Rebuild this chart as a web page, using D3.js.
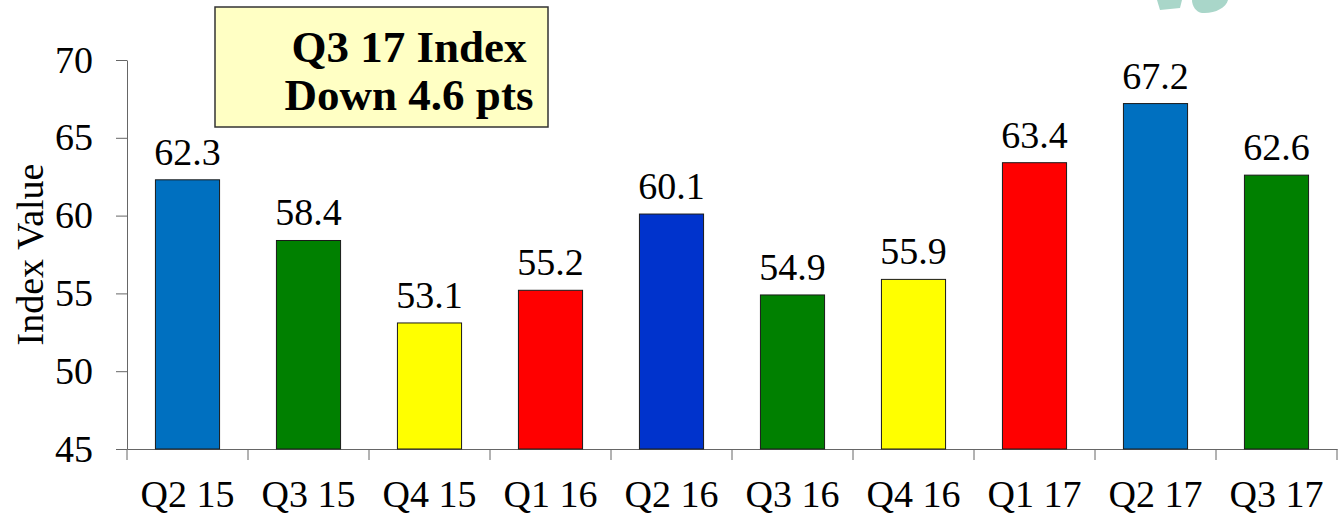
<!DOCTYPE html>
<html>
<head>
<meta charset="utf-8">
<script src="https://cdn.jsdelivr.net/npm/d3@7"></script>
<style>
  body { margin: 0; background: #fff; }
  svg { display: block; }
  svg text { font-family: "Liberation Serif", "Times New Roman", Times, serif !important; }
</style>
</head>
<body>
<div id="chart-area"></div>
<script>
const quarters = ["Q2 15", "Q3 15", "Q4 15", "Q1 16", "Q2 16", "Q3 16", "Q4 16", "Q1 17", "Q2 17", "Q3 17"];
const indexValues = [62.3, 58.4, 53.1, 55.2, 60.1, 54.9, 55.9, 63.4, 67.2, 62.6];
const yTicks = [45, 50, 55, 60, 65, 70];
const noteLines = ["Q3 17 Index", "Down 4.6 pts"];

// one colour per bar, same order as quarters
const barColors = ["#0070c0", "#008000", "#ffff00", "#ff0000", "#0033cc", "#008000", "#ffff00", "#ff0000", "#0070c0", "#008000"];

const W = 1344, H = 519;
const margin = { left: 127, right: 7, top: 60, bottom: 70 };
const width = W - margin.left - margin.right;
const height = H - margin.top - margin.bottom;

const svg = d3.select("#chart-area")
  .append("svg")
  .attr("width", W)
  .attr("height", H);

// faint logo remnant, top right
const logo = svg.append("g").attr("fill", "#a9d6c9");
logo.append("path").attr("d", "M1157,0 L1182,0 L1180,8 L1160,10 Z");
logo.append("path").attr("d", "M1192,0 L1228,0 C1226,8 1214,14 1202,13 C1196,12 1192,6 1192,0 Z");

const g = svg.append("g")
  .attr("transform", `translate(${margin.left}, ${margin.top})`);

const x = d3.scaleBand()
  .domain(quarters)
  .range([0, width])
  .paddingInner(0.47)
  .paddingOuter(0.235);

const y = d3.scaleLinear()
  .domain([45, 70])
  .range([height, 0]);

// y axis
const yAxisGroup = g.append("g")
  .attr("class", "y-axis")
  .call(d3.axisLeft(y).tickValues(yTicks).tickSize(11).tickSizeOuter(0).tickPadding(23));
yAxisGroup.select(".domain").attr("stroke", "#666");
yAxisGroup.selectAll(".tick line").attr("stroke", "#666");
yAxisGroup.selectAll(".tick text")
  .attr("font-size", "38px")
  .attr("fill", "#000");

// x axis (labels), ticks drawn at band edges below
const xAxisGroup = g.append("g")
  .attr("class", "x-axis")
  .attr("transform", `translate(0, ${height})`)
  .call(d3.axisBottom(x).tickSize(0).tickPadding(31));
xAxisGroup.select(".domain").attr("stroke", "#666");
xAxisGroup.selectAll(".tick text")
  .attr("font-size", "38px")
  .attr("fill", "#000");

const edges = quarters.map(q => x(q) - x.step() * x.paddingOuter()).concat([width]);
xAxisGroup.selectAll(".edge-tick")
  .data(edges)
  .enter()
  .append("line")
  .attr("class", "edge-tick")
  .attr("x1", d => d)
  .attr("x2", d => d)
  .attr("y1", 0)
  .attr("y2", 11)
  .attr("stroke", "#666");

// bars
g.selectAll("rect.bar")
  .data(indexValues)
  .enter()
  .append("rect")
  .attr("class", "bar")
  .attr("x", (d, i) => x(quarters[i]))
  .attr("y", d => y(d))
  .attr("width", x.bandwidth())
  .attr("height", d => height - y(d))
  .attr("fill", (d, i) => barColors[i])
  .attr("stroke", "#1a1a1a")
  .attr("stroke-width", 1);

// value labels
g.selectAll("text.value")
  .data(indexValues)
  .enter()
  .append("text")
  .attr("class", "value")
  .attr("x", (d, i) => x(quarters[i]) + x.bandwidth() / 2)
  .attr("y", d => y(d) - 15)
  .attr("text-anchor", "middle")
  .attr("font-size", "38px")
  .text(d => d.toFixed(1));

// y-axis label
svg.append("text")
  .attr("transform", `translate(43, ${margin.top + height / 2}) rotate(-90)`)
  .attr("text-anchor", "middle")
  .attr("font-size", "38px")
  .text("Index Value");

// callout box
svg.append("rect")
  .attr("x", 215)
  .attr("y", 7)
  .attr("width", 333)
  .attr("height", 120)
  .attr("fill", "#ffffc4")
  .attr("stroke", "#333")
  .attr("stroke-width", 1.5);

svg.selectAll("text.note")
  .data(noteLines)
  .enter()
  .append("text")
  .attr("class", "note")
  .attr("x", 409)
  .attr("y", (d, i) => 62 + i * 48)
  .attr("text-anchor", "middle")
  .attr("font-size", "45px")
  .attr("font-weight", "bold")
  .text(d => d);
</script>
</body>
</html>
